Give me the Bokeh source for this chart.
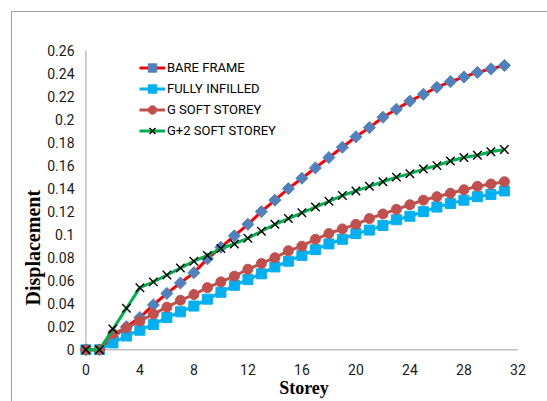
import numpy as np
from bokeh.plotting import figure
from bokeh.models import Range1d, FixedTicker, Legend, LegendItem, Title
from bokeh.embed import file_html
from bokeh.resources import INLINE

# ---------------- data ----------------
storey = list(range(32))
bare_frame = [0, 0, 0.011, 0.020, 0.028, 0.039, 0.049, 0.058, 0.067, 0.079,
              0.089, 0.099, 0.109, 0.120, 0.130, 0.140, 0.149, 0.158, 0.167,
              0.176, 0.185, 0.193, 0.202, 0.209, 0.216, 0.222, 0.228, 0.233,
              0.237, 0.241, 0.244, 0.247]
fully_infilled = [0, 0, 0.006, 0.012, 0.017, 0.022, 0.028, 0.033, 0.038, 0.044,
                  0.050, 0.056, 0.061, 0.066, 0.072, 0.077, 0.082, 0.087, 0.092,
                  0.096, 0.101, 0.104, 0.108, 0.113, 0.116, 0.120, 0.124, 0.127,
                  0.130, 0.133, 0.135, 0.138]
g_soft = [0, 0, 0.014, 0.019, 0.025, 0.031, 0.037, 0.043, 0.048, 0.054,
          0.059, 0.064, 0.070, 0.075, 0.080, 0.086, 0.090, 0.096, 0.101,
          0.105, 0.109, 0.114, 0.118, 0.122, 0.126, 0.130, 0.133, 0.136,
          0.139, 0.142, 0.144, 0.146]
g2_soft = [0, 0, 0.018, 0.036, 0.054, 0.059, 0.065, 0.071, 0.077, 0.082,
           0.088, 0.092, 0.097, 0.103, 0.109, 0.114, 0.119, 0.124, 0.129,
           0.134, 0.138, 0.142, 0.146, 0.150, 0.153, 0.157, 0.160, 0.164,
           0.167, 0.169, 0.172, 0.174]
series_names = ["BARE FRAME", "FULLY INFILLED", "G SOFT STOREY", "G+2 SOFT STOREY"]
x_ticks = [0, 4, 8, 12, 16, 20, 24, 28, 32]
y_ticks = [0, 0.02, 0.04, 0.06, 0.08, 0.1, 0.12, 0.14, 0.16, 0.18, 0.2, 0.22, 0.24, 0.26]
y_tick_labels = ["0", "0.02", "0.04", "0.06", "0.08", "0.1", "0.12", "0.14",
                 "0.16", "0.18", "0.2", "0.22", "0.24", "0.26"]

TICK_FONT = "Roboto"
TITLE_FONT = "Liberation Serif"
AXIS_GREY = "#bfbfbf"
FRAME_GREY = "#a0a0a0"

p = figure(width=547, height=401, output_backend="svg", toolbar_location=None,
           x_range=Range1d(-0.622, 32.933), y_range=Range1d(-0.00495, 0.26521),
           min_border_left=77, min_border_right=17, min_border_top=44,
           min_border_bottom=46)
p.grid.visible = False
p.outline_line_color = None
p.border_fill_alpha = 0
# chart-area border: grey top and left edges drawn behind the transparent canvas
p.styles = {
    "background-color": "white",
    "background-image": f"linear-gradient({FRAME_GREY},{FRAME_GREY}), "
                        f"linear-gradient({FRAME_GREY},{FRAME_GREY})",
    "background-size": "100% 1px, 1px 100%",
    "background-position": "11px 11px, 11px 11px",
    "background-repeat": "no-repeat",
}

for ax in (p.xaxis[0], p.yaxis[0]):
    ax.axis_line_color = None
    ax.major_tick_line_color = None
    ax.minor_tick_line_color = None
    ax.major_tick_out = 0
    ax.major_tick_in = 0
    ax.major_label_text_font = TICK_FONT
    ax.major_label_text_font_size = "14px"
    ax.major_label_text_color = "#1a1a1a"

p.xaxis.bounds = (x_ticks[0], x_ticks[-1])
p.xaxis.ticker = FixedTicker(ticks=x_ticks)
p.xaxis.major_label_standoff = 8
p.xaxis.axis_label = "Storey"
p.xaxis.axis_label_text_font = TITLE_FONT
p.xaxis.axis_label_text_font_style = "bold"
p.xaxis.axis_label_text_font_size = "18px"
p.xaxis.axis_label_text_color = "black"
p.xaxis.axis_label_standoff = 0

p.yaxis.ticker = FixedTicker(ticks=y_ticks)
p.yaxis.major_label_overrides = dict(zip(y_ticks, y_tick_labels))
p.yaxis.major_label_standoff = 3

# y title, placed lower than centre as in the original
p.add_layout(Title(text="Displacement", align="left", offset=50, standoff=2,
                   text_font=TITLE_FONT, text_font_style="bold",
                   text_font_size="20px", text_color="black"), "left")

# axis lines at x = 0 and y = 0
p.segment(x0=[x_ticks[0], x_ticks[0]], y0=[y_ticks[0], y_ticks[0]],
          x1=[x_ticks[-1], x_ticks[0]], y1=[y_ticks[0], y_ticks[-1]],
          line_color=AXIS_GREY, line_width=1.5)

l1 = p.line(storey, bare_frame, line_color="#ff0000", line_width=3)
m1 = p.scatter(storey, bare_frame, marker="square", angle=np.pi / 4, size=8.5,
               fill_color="#4f81bd", line_color="#4f81bd")
l2 = p.line(storey, fully_infilled, line_color="#00b0f0", line_width=3)
m2 = p.scatter(storey, fully_infilled, marker="square", size=10,
               fill_color="#00b0f0", line_color="#00b0f0")
l3 = p.line(storey, g_soft, line_color="#c0504d", line_width=3)
m3 = p.scatter(storey, g_soft, marker="circle", size=10,
               fill_color="#c0504d", line_color="#c0504d")
l4 = p.line(storey, g2_soft, line_color="#00b050", line_width=3)
m4 = p.scatter(storey, g2_soft, marker="x", size=12, line_color="black",
               line_width=1.4)

legend = Legend(items=[LegendItem(label=series_names[0], renderers=[l1, m1]),
                       LegendItem(label=series_names[1], renderers=[l2, m2]),
                       LegendItem(label=series_names[2], renderers=[l3, m3]),
                       LegendItem(label=series_names[3], renderers=[l4, m4])],
                location=(62, 214), padding=0, spacing=0, margin=0,
                glyph_width=26, glyph_height=21, label_height=21,
                label_standoff=2, border_line_color=None,
                background_fill_alpha=0, label_text_font=TICK_FONT,
                label_text_font_size="13px", label_text_color="black")
p.add_layout(legend)

open("out.html", "w").write(file_html(p, INLINE))
